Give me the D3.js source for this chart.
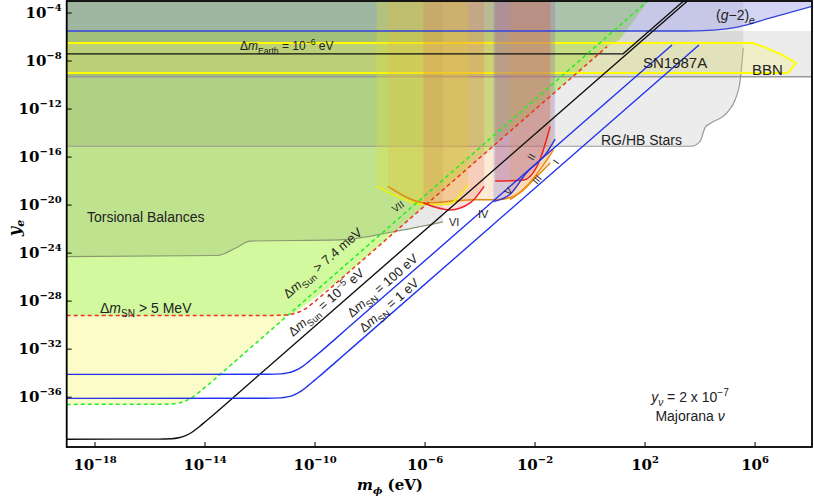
<!DOCTYPE html>
<html><head><meta charset="utf-8">
<script src="https://cdn.jsdelivr.net/npm/d3@7"></script>
<style>body{margin:0;background:#fff}svg{display:block}</style>
</head><body><svg id="c" width="814" height="496"></svg>
<script>
// ---- data (log10 m_phi [eV], log10 y_e) ----
const xTicks = [-18,-14,-10,-6,-2,2,6];
const yTicks = [-4,-8,-12,-16,-20,-24,-28,-32,-36];
const sunLine = [[-19.03,-39.5],[-15.71,-39.49],[-15.21,-39.46],[-14.96,-39.38],[-14.71,-39.2],[-14.46,-38.9],[-14.21,-38.46],[-13.96,-37.98],[-13.71,-37.5],[-13.21,-36.5],[-12.71,-35.5],[3.54,-3]];
const sn100 = [[-19.03,-34.1],[-11.74,-34.09],[-11.24,-34.06],[-10.99,-33.98],[-10.74,-33.8],[-10.49,-33.5],[-10.24,-33.06],[-9.99,-32.58],[-9.74,-32.1],[-9.24,-31.1],[-8.74,-30.1],[2.98,-6.66]];
const sn1 = [[-19.03,-36.1],[-11.76,-36.09],[-11.26,-36.06],[-11.01,-35.98],[-10.76,-35.8],[-10.51,-35.5],[-10.26,-35.06],[-10.01,-34.58],[-9.76,-34.1],[-9.26,-33.1],[-8.76,-32.1],[3.96,-6.66]];
const sunDash = [[-19.03,-36.6],[-15.7,-36.59],[-15.2,-36.56],[-14.95,-36.48],[-14.7,-36.3],[-14.45,-36.0],[-14.2,-35.56],[-13.95,-35.08],[-13.7,-34.6],[-13.2,-33.6],[-12.7,-32.6],[2.1,-3]];
const snDash = [[-19.03,-29.2],[-11.58,-29.19],[-11.08,-29.16],[-10.83,-29.08],[-10.58,-28.9],[-10.33,-28.6],[-10.08,-28.16],[-9.83,-27.68],[-9.58,-27.2],[-9.08,-26.2],[-8.58,-25.2],[0.62,-6.8]];
const earthLine = [[-19.03,-7.4],[1.2,-7.4],[3.4,-3]];
const g2Line = [[-19.03,-5.5],[3.5,-5.5],[4.3,-5.45],[5.4,-5.15],[6.5,-4.45],[8.07,-3.45]];
const rgEdge = [[-19.03,-15.1],[3.68,-15.1],[4.0,-14.7],[4.19,-13.5],[4.37,-13.2],[5.02,-12.2],[5.28,-11.2],[5.46,-9.57],[5.57,-6.9]];
const bbnShape = [[-19.03,-6.5],[5.9,-6.5],[6.3,-6.8],[7.0,-7.5],[7.49,-8.16],[7.2,-9.0],[-19.03,-9.0]];
const snBand = [-5.5,-9.3];
const torsion = [[-19.03,-24.3],[-13.56,-24.2],[-12.9,-23.6],[-12.36,-23.0],[-9.1,-22.9],[-7.1,-22.2],[-5.35,-21.4]];
const arcVII = [[-7.76,-18.44],[-6.9,-19.4],[-6.06,-19.96],[-5.21,-19.96],[-4.43,-18.3]];
const arcOrange = [[-7.35,-18.44],[-5.94,-19.82],[-4.25,-19.55],[-3.38,-19.55],[-2.65,-19.13],[-1.93,-17.6],[-1.45,-16.5]];
const arcVI = [[-6.06,-19.82],[-5.09,-20.4],[-4.36,-19.82],[-3.85,-18.44]];
const arcII = [[-3.45,-18.0],[-2.42,-17.9],[-1.82,-16.2],[-1.45,-13.45]];
const arcV = [[-3.51,-19.7],[-2.91,-19.1],[-2.31,-17.3],[-1.58,-15.65],[-1.27,-14.5]];
const arcIII = [[-2.91,-19.55],[-2.31,-18.44],[-1.82,-17.05],[-1.33,-15.4]];

const svg = d3.select('#c');
const X0=66.7,X1=812,Y0=1,Y1=447;
const x = d3.scaleLinear().domain([-19.03,8.07]).range([X0,X1]);
const y = d3.scaleLinear().domain([-3,-40.15]).range([Y0,Y1]);
svg.append('defs').append('clipPath').attr('id','clp').append('rect').attr('x',X0).attr('y',Y0).attr('width',X1-X0).attr('height',Y1-Y0);
const g = svg.append('g').attr('clip-path','url(#clp)');
const line = d3.line().x(d=>x(d[0])).y(d=>y(d[1])).curve(d3.curveMonotoneX);
const lin = d3.line().x(d=>x(d[0])).y(d=>y(d[1]));
const TOP=-2.5;
function above(pts){const p=pts.slice(); p.push([pts[pts.length-1][0],TOP]); p.push([pts[0][0],TOP]); return p;}
function areaAbove(pts,fill,curve){
  const a=d3.area().x(d=>x(d[0])).y0(y(TOP)).y1(d=>y(d[1])).curve(curve||d3.curveMonotoneX);
  return g.append('path').attr('d',a(pts)).attr('fill',fill);
}
areaAbove(sunDash.concat([[8.07,2.0]]),'#fbfcc8',d3.curveLinear);
g.append('clipPath').attr('id','cg').append('path').attr('d',d3.area().x(d=>x(d[0])).y0(y(TOP)).y1(d=>y(d[1])).curve(d3.curveMonotoneX)(sunDash.concat([[8.07,20]])));
areaAbove(snDash.concat([[8.07,3]]),'#d2f99e',d3.curveLinear).attr('clip-path','url(#cg)');
g.append('path').attr('d',lin(above(torsion))).attr('fill','rgba(0,0,0,0.09)');
g.append('path').attr('d',line(torsion)).attr('fill','none').attr('stroke','#8a9a70').attr('stroke-width',1.2);
g.append('path').attr('d',lin(above(rgEdge))).attr('fill','rgba(0,0,0,0.075)');
g.append('path').attr('d',line(rgEdge)).attr('fill','none').attr('stroke','#999').attr('stroke-width',1.2);
g.append('rect').attr('x',X0).attr('width',X1-X0).attr('y',y(snBand[0])).attr('height',y(snBand[1])-y(snBand[0])).attr('fill','rgba(0,0,0,0.08)');
g.append('line').attr('x1',X0).attr('x2',X1).attr('y1',y(snBand[1])).attr('y2',y(snBand[1])).attr('stroke','#999').attr('stroke-width',1.5);
g.append('path').attr('d',lin(bbnShape)+'Z').attr('fill','rgba(245,245,120,0.3)').attr('stroke','#ffff00').attr('stroke-width',2);
areaAbove(g2Line,'rgba(120,120,220,0.32)');
const exps=[[arcOrange,'rgba(240,160,60,0.22)','#e08a10'],[arcVII,'rgba(225,225,50,0.3)','#f0f000'],[arcVI,'rgba(240,90,90,0.2)','#ee2222'],
 [arcII,'rgba(225,80,80,0.25)','#ee2222'],[arcV,'rgba(110,100,220,0.25)','#3333dd'],[arcIII,'rgba(240,150,50,0.18)','#f08a10']];
exps.forEach(e=>areaAbove(e[0],e[1]));
exps.forEach(e=>g.append('path').attr('d',line(e[0])).attr('fill','none').attr('stroke',e[2]).attr('stroke-width',1.5));
function draw(pts,col,w,dash,curve){g.append('path').attr('d',(curve||line)(pts)).attr('fill','none').attr('stroke',col).attr('stroke-width',w).attr('stroke-dasharray',dash||null);}
draw(g2Line,'#3344dd',1.3);
draw(earthLine,'#111',1.3,null,lin);
draw(sunDash,'#22ee22',1.5,'4,3');
draw(snDash,'#ee3322',1.5,'4,3');
draw(sunLine,'#111',1.4);
draw(sn100,'#2233ee',1.4);
draw(sn1,'#2233ee',1.4);
svg.append('rect').attr('x',X0).attr('y',Y0).attr('width',X1-X0).attr('height',Y1-Y0).attr('fill','none').attr('stroke','#000').attr('stroke-width',1.8);
const serif='"DejaVu Serif","Liberation Serif",serif';
xTicks.forEach(t=>{
  svg.append('line').attr('x1',x(t)).attr('x2',x(t)).attr('y1',Y1).attr('y2',Y1-5).attr('stroke','#000');
  const tx=svg.append('text').attr('x',x(t)).attr('y',470).attr('text-anchor','middle').attr('font-family',serif).attr('font-weight','bold').attr('font-size',15);
  tx.append('tspan').text('10'); tx.append('tspan').attr('dy',-7).attr('font-size',10).text(t<0?'\u2212'+(-t):t);
});
yTicks.forEach(t=>{
  svg.append('line').attr('x1',X0).attr('x2',X0+5).attr('y1',y(t)).attr('y2',y(t)).attr('stroke','#000');
  const tx=svg.append('text').attr('x',X0-5).attr('y',y(t)+5).attr('text-anchor','end').attr('font-family',serif).attr('font-weight','bold').attr('font-size',15);
  tx.append('tspan').text('10'); tx.append('tspan').attr('dy',-7).attr('font-size',10).text('\u2212'+(-t));
});
const xl=svg.append('text').attr('x',390).attr('y',490).attr('text-anchor','middle').attr('font-family',serif).attr('font-weight','bold').attr('font-size',15);
xl.append('tspan').attr('font-style','italic').text('m'); xl.append('tspan').attr('font-size',10).attr('dy',4).attr('font-style','italic').text('\u03d5');
xl.append('tspan').attr('dy',-4).text(' (eV)');
const yl=svg.append('text').attr('transform','translate(20,228) rotate(-90)').attr('text-anchor','middle').attr('font-family',serif).attr('font-weight','bold').attr('font-size',16).attr('font-style','italic');
yl.append('tspan').text('y'); yl.append('tspan').attr('font-size',11).attr('dy',4).text('e');
const sans='"Liberation Sans",Arial,sans-serif';
// parts: [text, mode ('', 'sub', 'sup'), italic]
function lab(xx,yy,fs,rot,parts){
  const t=svg.append('text').attr('transform',`translate(${xx},${yy}) rotate(${rot||0})`).attr('font-family',sans).attr('font-size',fs).attr('fill','#222');
  let cur=0;
  parts.forEach(p=>{
    const target=p[1]==='sub'?fs*0.3:p[1]==='sup'?-fs*0.4:0;
    const s=t.append('tspan').text(p[0]).attr('dy',target-cur); cur=target;
    if(p[1])s.attr('font-size',fs*0.72);
    if(p[2])s.attr('font-style','italic');
  });
  return t;
}
lab(240,50,12,0,[['\u0394'],['m','',1],['Earth','sub'],[' = 10'],['\u22126','sup'],[' eV']]);
lab(716,20,14,0,[['('],['g','',1],['\u22122)'],['e','sub',1]]);
lab(643,68,15,0,[['SN1987A']]);
lab(752,75,15,0,[['BBN']]);
lab(601,145,14,0,[['RG/HB Stars']]);
lab(87,222,14,0,[['Torsional Balances']]);
lab(100,313,14,0,[['\u0394'],['m','',1],['SN','sub'],[' > 5 MeV']]);
lab(288,299,13,-41,[['\u0394'],['m','',1],['Sun','sub'],[' > 7.4 meV']]);
lab(293,337,13,-41,[['\u0394'],['m','',1],['Sun','sub'],[' = 10'],['\u22125','sup'],[' eV']]);
lab(352,318,13,-41,[['\u0394'],['m','',1],['SN','sub'],[' = 100 eV']]);
lab(364,333,13,-41,[['\u0394'],['m','',1],['SN','sub'],[' = 1 eV']]);
lab(395,213,10,-35,[['VII']]);
lab(449,226,11,0,[['VI']]);
lab(478,218,11,0,[['IV']]);
lab(509,196,10,-50,[['V']]);
lab(537,185,10,-50,[['III']]);
lab(533,161,10,-60,[['II']]);
lab(558,165,10,-55,[['I']]);
lab(690,402,14,0,[['y','',1],['\u03bd','sub',1],[' = 2 x 10'],['\u22127','sup']]).attr('text-anchor','middle');
lab(690,421,14,0,[['Majorana '],['\u03bd','',1]]).attr('text-anchor','middle');
</script></body></html>
